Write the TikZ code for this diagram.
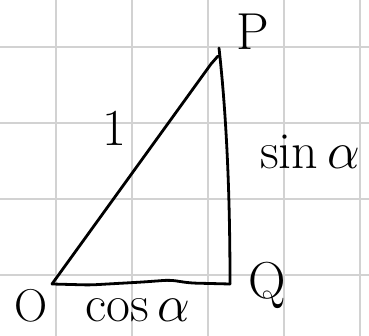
\RequirePackage{fix-cm}
\documentclass[tikz,border=0pt]{standalone}
\usepackage{fontspec}
\usepackage{amsmath}
\usepackage{xcolor}

\begin{document}
\begin{tikzpicture}[x=1pt,y=-1pt,
    gridline/.style={gray!35,line width=2pt},
    side/.style={black,line width=2.8pt,line cap=round,line join=round},
    lbl/.style={font=\fontsize{52}{52}\selectfont,inner sep=0pt}]

% ---- frame, 369 x 336 ----
\useasboundingbox[fill=white] (0,0) rectangle (369,336);

% Gridlines: squared paper, 76 apart
\foreach \i in {0,...,4} {
    \draw[gridline] (56+76*\i,0) -- (56+76*\i,336);
}
\foreach \j in {0,...,3} {
    \draw[gridline] (0,47+76*\j) -- (369,47+76*\j);
}

% ---- vertices ----
\coordinate (O) at (52,284);
\coordinate (Q) at (230,284);
\coordinate (P) at (219,48);
\coordinate (Ptip) at (218,56);

% Triangle sides
\draw[side] (O) -- (211,64) -- (Ptip);
\draw[side] (P) .. controls (227,120) and (230,200) .. (Q);
\draw[side,rounded corners=6pt] (O) -- (90,285) -- (143,282) -- (170,280)
    -- (190,283) -- (Q);

% ---- labels ----
\node[lbl] (labP) at (253,32) {P};
\node[lbl] (labQ) at (267,285) {Q};
\node[lbl,font=\fontsize{46}{46}\selectfont] (labO) at (31,306) {O};
\node[lbl] (labone) at (114,128) {1};
\node[lbl] (labsin) at (310,152) {$\sin\alpha$};
\node[lbl] (labcos) at (138,310) {$\cos\alpha$};

\end{tikzpicture}
\end{document}
